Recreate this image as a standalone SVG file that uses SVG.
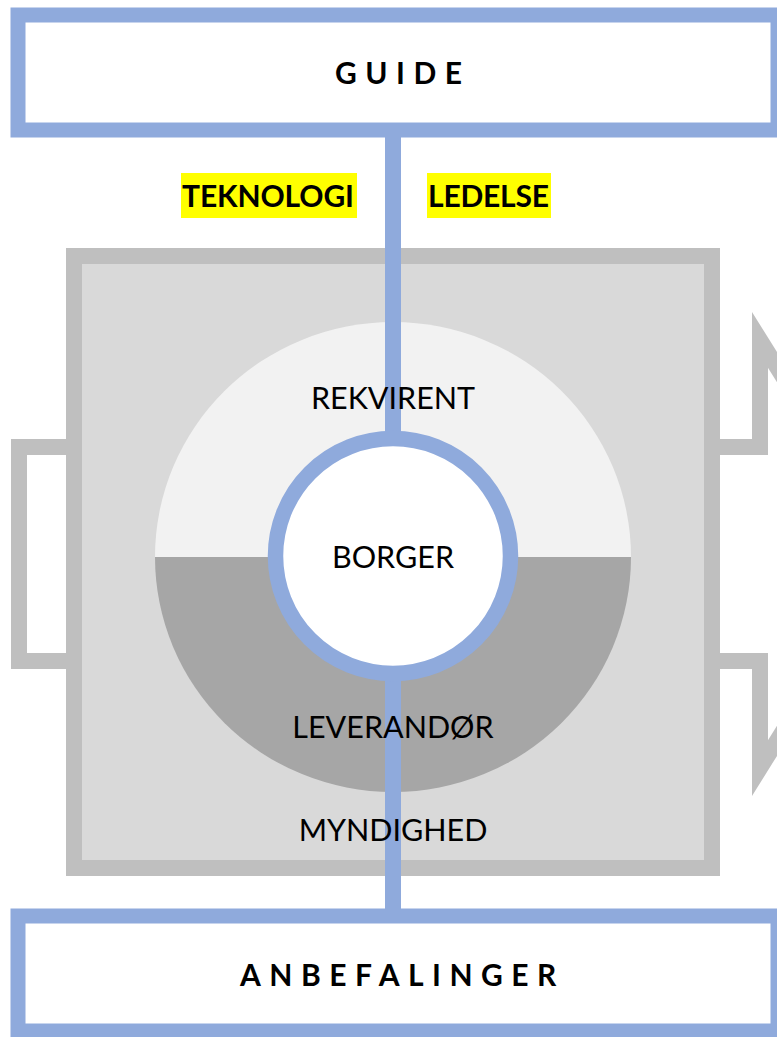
<svg xmlns="http://www.w3.org/2000/svg" width="777" height="1037" viewBox="0 0 777 1037">
<style>
.box{fill:#ffffff;stroke:#8faadc;stroke-width:15}
.hdr{font-family:Lato,"Liberation Sans",sans-serif;font-weight:bold;font-size:30px;letter-spacing:8.5px;fill:#000}
.lbl{font-family:Lato,"Liberation Sans",sans-serif;font-size:30.5px;fill:#000;text-anchor:middle}
.tag{font-family:Lato,"Liberation Sans",sans-serif;font-weight:bold;font-size:30px;fill:#000}
.hl{fill:#ffff00}
</style>
<rect width="777" height="1037" fill="#ffffff"/>
<g id="flow-arrow">
<path d="M19,447 H760 V340 L893.75,554 L760,768 V661 H19 Z" fill="none" stroke="#bfbfbf" stroke-width="16" stroke-linejoin="miter"/>
</g>
<g id="frame">
<rect x="74" y="256" width="638" height="612" fill="#d9d9d9" stroke="#bfbfbf" stroke-width="16"/>
</g>
<g id="rekvirent">
<path d="M155,557 A238,235 0 0 1 631,557 Z" fill="#f2f2f2"/>
</g>
<g id="leverandor">
<path d="M155,557 A238,235 0 0 0 631,557 Z" fill="#a6a6a6"/>
</g>
<g id="connectors">
<line x1="393" y1="130" x2="393" y2="916" stroke="#8faadc" stroke-width="16"/>
</g>
<g id="borger">
<circle cx="393" cy="556" r="117.5" fill="#ffffff" stroke="#8faadc" stroke-width="15.5"/>
<text class="lbl" x="393" y="568">BORGER</text>
</g>
<g id="labels">
<text class="lbl" x="393" y="409">REKVIRENT</text>
<text class="lbl" x="393" y="738">LEVERANDØR</text>
<text class="lbl" x="393" y="841">MYNDIGHED</text>
</g>
<g id="guide">
<rect class="box" x="18" y="15" width="760" height="115"/>
<text class="hdr" x="335" y="84">GUIDE</text>
</g>
<g id="teknologi">
<rect class="hl" x="181" y="173" width="176" height="45"/>
<text class="tag" x="182" y="207" textLength="172">TEKNOLOGI</text>
</g>
<g id="ledelse">
<rect class="hl" x="427" y="173" width="124" height="45"/>
<text class="tag" x="428" y="207" textLength="121">LEDELSE</text>
</g>
<g id="anbefalinger">
<rect class="box" x="18" y="916" width="760" height="115"/>
<text class="hdr" x="240" y="986">ANBEFALINGER</text>
</g>
</svg>
